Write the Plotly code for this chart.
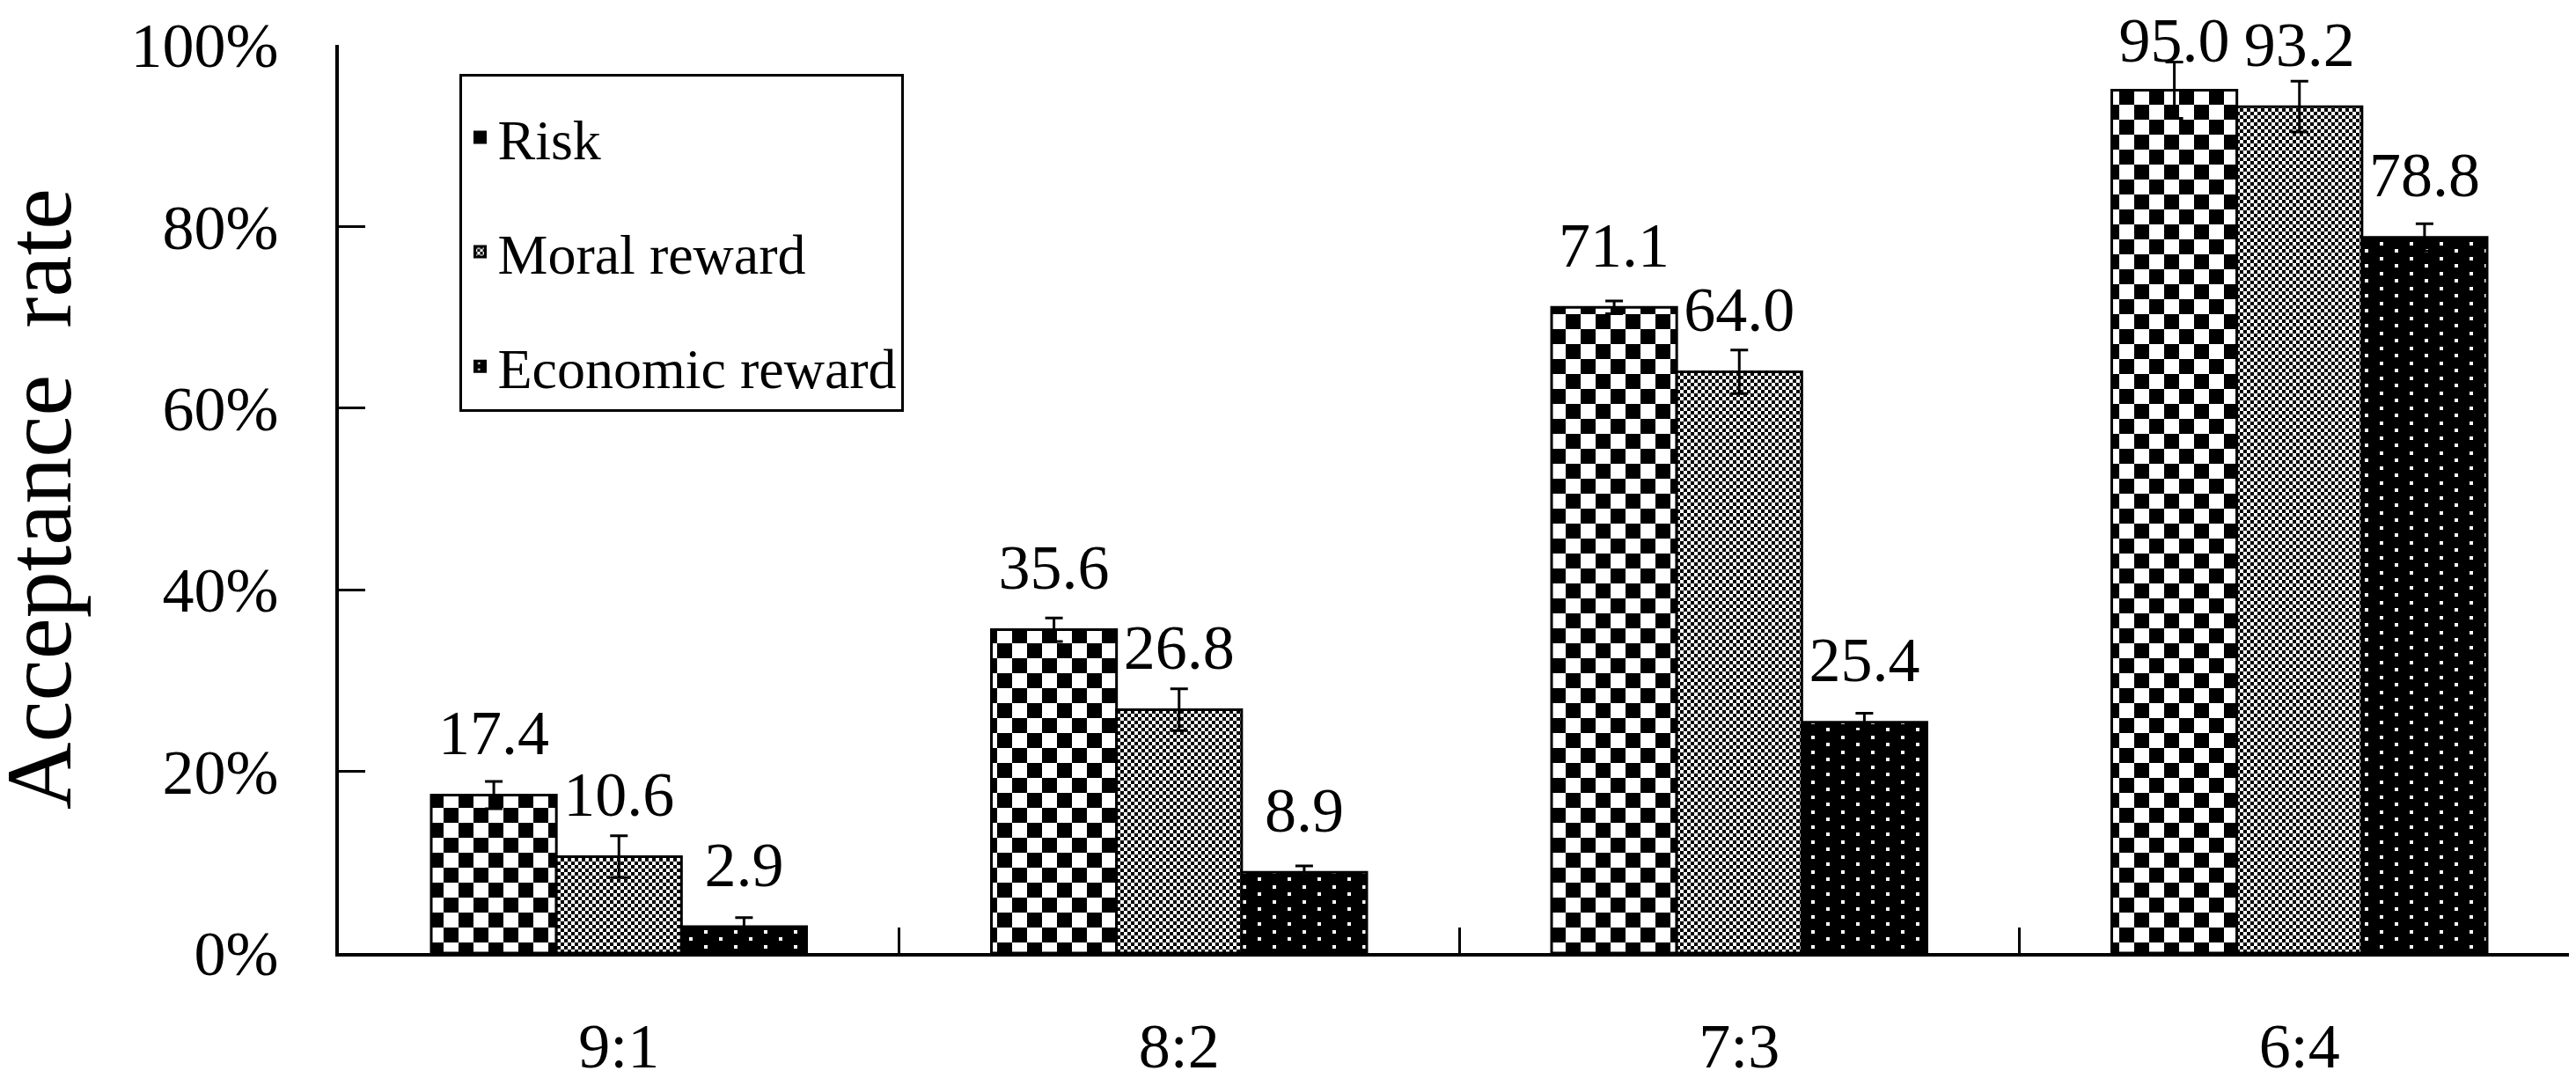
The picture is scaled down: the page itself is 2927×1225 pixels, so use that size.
import plotly.graph_objects as go

# ── data ──────────────────────────────────────────────────────────────
ratios = ["9:1", "8:2", "7:3", "6:4"]
series = ["Risk", "Moral reward", "Economic reward"]

risk_vals = [17.4, 35.6, 71.1, 95.0]
moral_vals = [10.6, 26.8, 64.0, 93.2]
econ_vals = [2.9, 8.9, 25.4, 78.8]

risk_err = [1.5, 1.3, 0.7, 3.1]
moral_err = [2.3, 2.3, 2.4, 2.8]
econ_err = [1.0, 0.7, 1.0, 1.5]

y_ticks = [0, 20, 40, 60, 80, 100]

# ── style ─────────────────────────────────────────────────────────────
FONT = "Liberation Serif, Times New Roman, serif"
BLACK = "#000000"
W, H = 2927, 1225
M_LEFT, M_RIGHT, M_TOP, M_BOT = 377, 4, 42, 130

CHECKER = dict(path="M0,0H17V17H0Z M17,17H34V34H17Z", size=34,
               fgcolor=BLACK, bgcolor="white", fillmode="replace", solidity=1)
FINE = dict(path="M0,0H4V4H0Z M4,4H8V8H4Z", size=8,
            fgcolor=BLACK, bgcolor="white", fillmode="replace", solidity=1)
DOTS = dict(path="M7,3H11V7H7Z M24,11H28V15H24Z M7,20H11V24H7Z M24,28H28V32H24Z",
            size=34, fgcolor="white", bgcolor=BLACK, fillmode="replace", solidity=1)

patterns = [CHECKER, FINE, DOTS]
values = [risk_vals, moral_vals, econ_vals]
errors = [risk_err, moral_err, econ_err]

fig = go.Figure()

for i, (name, vals, errs, pat) in enumerate(zip(series, values, errors, patterns)):
    fig.add_trace(go.Bar(
        x=ratios, y=vals, name=name,
        offsetgroup=str(i), legendgroup=str(i),
        marker=dict(color="white", line=dict(color=BLACK, width=3), pattern=pat),
        error_y=dict(type="data", array=errs, visible=True,
                     color=BLACK, thickness=3, width=10),
    ))

# value labels: ~50px above the bar top, but kept inside the page at the top
px_per_unit = (H - M_TOP - M_BOT) / 100
for i, vals in enumerate(values):
    sizes = []
    for v in vals:
        top_px = M_TOP + (100 - v) * px_per_unit
        sizes.append(max(4, min(44, 2 * (top_px - 84))))
    fig.add_trace(go.Scatter(
        x=ratios, y=vals,
        mode="markers+text", offsetgroup=str(i), cliponaxis=False,
        text=[f"{v:.1f}" for v in vals], textposition="top center",
        textfont=dict(family=FONT, size=72, color=BLACK),
        marker=dict(size=sizes, color="white", opacity=0, line=dict(width=0)),
        showlegend=False, hoverinfo="skip",
    ))

# y-axis title as a rotated annotation so it can sit close to the page edge
plot_w = W - M_LEFT - M_RIGHT
fig.add_annotation(
    text="Acceptance  rate", textangle=-90,
    xref="paper", yref="paper", x=(36 - M_LEFT) / plot_w, y=0.5,
    xanchor="center", yanchor="middle", showarrow=False,
    font=dict(family=FONT, size=106, color=BLACK),
)

fig.update_layout(
    width=W, height=H,
    barmode="group", bargap=0.33, bargroupgap=0,
    scattermode="group", scattergap=0.33,
    plot_bgcolor="white", paper_bgcolor="white",
    font=dict(family=FONT, size=72, color=BLACK),
    margin=dict(l=M_LEFT, r=M_RIGHT, t=M_TOP, b=M_BOT),
    legend=dict(
        x=0.054, y=0.968, xanchor="left", yanchor="top",
        bgcolor="white", bordercolor=BLACK, borderwidth=3,
        font=dict(family=FONT, size=64, color=BLACK),
        title=dict(text=" ", font=dict(size=16)),
        tracegroupgap=44, itemwidth=30,
    ),
    xaxis=dict(
        showline=True, linecolor=BLACK, linewidth=4,
        ticks="inside", tickson="boundaries", ticklen=29, tickwidth=3, tickcolor=BLACK,
        ticklabelstandoff=40, showgrid=False, zeroline=False,
    ),
    yaxis=dict(
        range=[0, 100], tickvals=y_ticks, ticktext=[f"{t}%" for t in y_ticks],
        showline=True, linecolor=BLACK, linewidth=4,
        ticks="inside", ticklen=30, tickwidth=3, tickcolor=BLACK,
        ticklabelstandoff=50, showgrid=False, zeroline=False,
    ),
)

fig.write_html("out.html")
